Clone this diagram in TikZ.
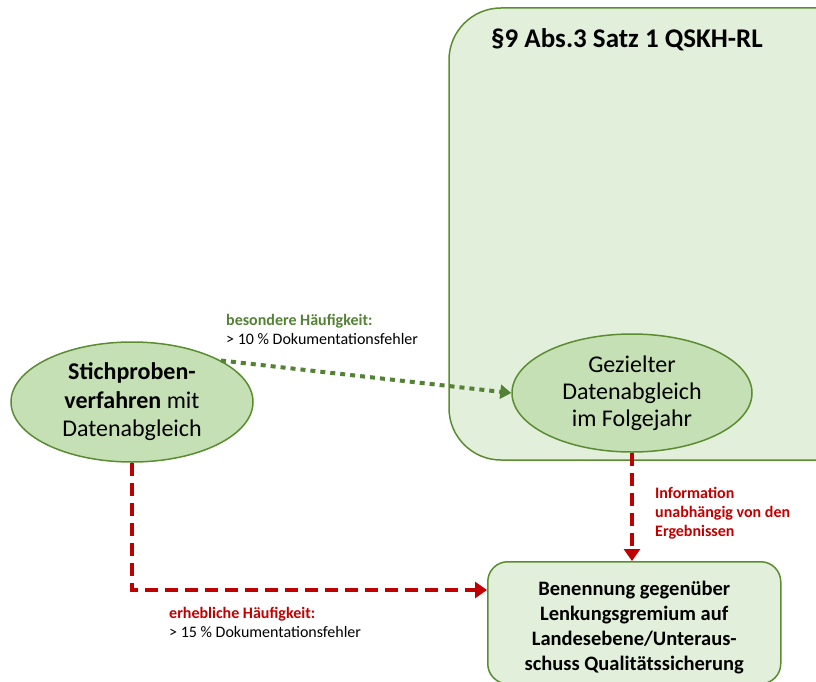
\documentclass[tikz,border=0pt]{standalone}
\usepackage{fontspec}
\setmainfont{Carlito}
\usetikzlibrary{arrows.meta,shapes.geometric}
\definecolor{lightgreen}{HTML}{E2EFDA}
\definecolor{midgreen}{HTML}{C5E0B4}
\definecolor{bordergreen}{HTML}{5B8C32}
\definecolor{dotgreen}{HTML}{548235}
\definecolor{darkred}{HTML}{C00000}
\tikzset{
  ell/.style={ellipse, draw=bordergreen, line width=1.5pt, fill=midgreen, align=center, inner sep=0pt},
  redline/.style={draw=darkred, line width=3.5pt, dash pattern=on 13pt off 7pt, -{Triangle[length=12pt,width=16pt]}},
  greenline/.style={draw=dotgreen, line width=4pt, dash pattern=on 5pt off 5pt, -{Triangle[length=11pt,width=14pt]}},
  lbl/.style={anchor=base west, align=left, inner sep=0pt, font=\fontsize{16}{18.5}\selectfont},
}
\begin{document}
\begin{tikzpicture}[x=1pt,y=-1pt]
\useasboundingbox (0,0) rectangle (816,682);
\clip (0,0) rectangle (816,682);
% big container
\draw[draw=bordergreen, line width=1.5pt, fill=lightgreen, rounded corners=52pt] (449,8) rectangle (870,460);
\node[font=\bfseries\fontsize{27}{30}\selectfont, anchor=center] (title) at (627,40) {§9 Abs.3 Satz 1 QSKH-RL};
% ellipses
\node[ell, minimum width=242pt, minimum height=120pt, font=\fontsize{24}{28.5}\selectfont] (stich) at (132,402) {\textbf{Stichproben-}\\\textbf{verfahren} mit\\Datenabgleich};
\node[ell, minimum width=240pt, minimum height=118pt, font=\fontsize{24}{27}\selectfont] (gez) at (632,393) {Gezielter\\Datenabgleich\\im Folgejahr};
% bottom box
\node[draw=bordergreen, line width=1.5pt, fill=lightgreen, rounded corners=20pt, minimum width=293pt, minimum height=122pt, align=center, font=\bfseries\fontsize{20.5}{25}\selectfont, anchor=north west, inner sep=0pt] (ben) at (487,561) {\rule{0pt}{24pt}Benennung gegenüber\\Lenkungsgremium auf\\Landesebene/Unteraus-\\schuss Qualitätssicherung};
% connectors
\coordinate (corner) at (132,590);
\draw[greenline] (stich.25) -- (gez.west);
\draw[redline] (stich.south) -- (corner) -- (ben.west |- corner);
\draw[redline] (gez.south) -- (ben.north -| gez.south);
% labels
\node[lbl] (l1) at (226,344) {\textcolor{dotgreen}{\bfseries besondere Häufigkeit:}\\> 10 \% Dokumentationsfehler};
\node[lbl] (l2) at (169,637) {\textcolor{darkred}{\bfseries erhebliche Häufigkeit:}\\> 15 \% Dokumentationsfehler};
\node[lbl, text=darkred, font=\bfseries\fontsize{16}{19}\selectfont] (l3) at (655,536) {Information\\unabhängig von den\\Ergebnissen};
\end{tikzpicture}
\end{document}
